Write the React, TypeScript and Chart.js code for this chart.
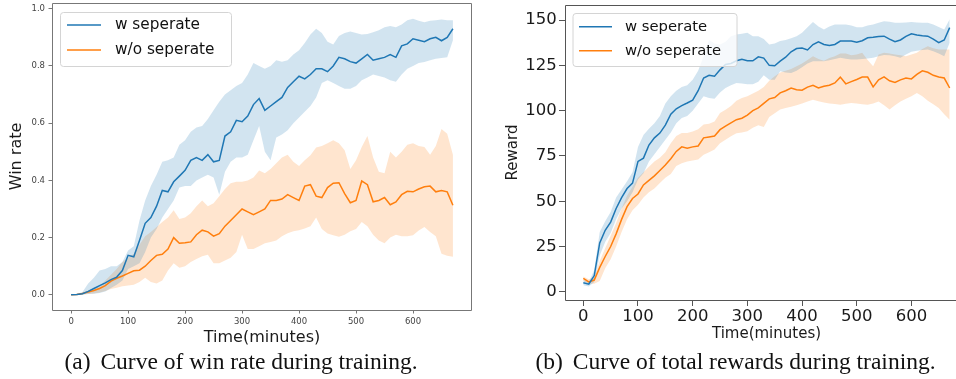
import React, { useEffect, useRef } from 'react';
import { Chart, registerables } from 'chart.js';

Chart.register(...registerables);

// ---------- data ----------
const TIME = [
  0, 10, 20, 30, 40, 50, 60, 70, 80, 90,
  100, 110, 120, 130, 140, 150, 160, 170, 180, 190,
  200, 210, 220, 230, 240, 250, 260, 270, 280, 290,
  300, 310, 320, 330, 340, 350, 360, 370, 380, 390,
  400, 410, 420, 430, 440, 450, 460, 470, 480, 490,
  500, 510, 520, 530, 540, 550, 560, 570, 580, 590,
  600, 610, 620, 630, 640, 650, 660, 670,
];

const SERIES_LABELS = ['w seperate', 'w/o seperate'];

// (a) win rate
const WIN_W_MEAN = [
  0, 0.001, 0.004, 0.012, 0.022, 0.032, 0.042, 0.053, 0.062, 0.085,
  0.138, 0.133, 0.19, 0.25, 0.27, 0.31, 0.365, 0.36, 0.395, 0.415,
  0.435, 0.47, 0.48, 0.47, 0.49, 0.465, 0.47, 0.555, 0.57, 0.61,
  0.605, 0.625, 0.665, 0.686, 0.645, 0.66, 0.675, 0.69, 0.725, 0.745,
  0.764, 0.755, 0.77, 0.79, 0.79, 0.78, 0.8, 0.83, 0.825, 0.815,
  0.81, 0.825, 0.84, 0.82, 0.825, 0.83, 0.84, 0.83, 0.87, 0.877,
  0.895, 0.89, 0.885, 0.895, 0.9, 0.888, 0.9, 0.93,
];
const WIN_W_UPPER = [
  0, 0.002, 0.01, 0.04, 0.06, 0.085, 0.09, 0.1, 0.1, 0.115,
  0.155, 0.17, 0.26, 0.33, 0.38, 0.42, 0.465, 0.47, 0.48, 0.525,
  0.54, 0.57, 0.585, 0.59, 0.615, 0.645, 0.675, 0.7, 0.715, 0.73,
  0.74, 0.77, 0.81, 0.8, 0.79, 0.8, 0.82, 0.815, 0.82, 0.84,
  0.855, 0.88, 0.91, 0.93, 0.915, 0.885, 0.875, 0.905, 0.915, 0.92,
  0.915, 0.91, 0.912, 0.918, 0.925, 0.935, 0.94, 0.935, 0.945, 0.96,
  0.965, 0.958, 0.953, 0.958, 0.96, 0.962, 0.96, 0.96,
];
const WIN_W_LOWER = [
  0, 0, 0.001, 0.003, 0.004, 0.006, 0.012, 0.024, 0.035, 0.05,
  0.09, 0.1, 0.11, 0.15, 0.2, 0.23, 0.27, 0.3, 0.33, 0.375,
  0.38, 0.38, 0.4, 0.41, 0.42, 0.41, 0.35, 0.43, 0.465, 0.48,
  0.48, 0.49, 0.54, 0.59, 0.5, 0.47, 0.55, 0.56, 0.575, 0.6,
  0.62, 0.64, 0.66, 0.69, 0.74, 0.75, 0.74, 0.73, 0.72, 0.72,
  0.73, 0.75, 0.76, 0.77, 0.765, 0.76, 0.75, 0.745, 0.77, 0.79,
  0.8, 0.81, 0.814, 0.82, 0.825, 0.828, 0.83, 0.89,
];
const WIN_WO_MEAN = [
  0, 0.001, 0.005, 0.01, 0.015, 0.022, 0.032, 0.048, 0.058, 0.066,
  0.075, 0.084, 0.086, 0.1, 0.12, 0.138, 0.142, 0.16, 0.2, 0.18,
  0.182, 0.185, 0.21, 0.226, 0.22, 0.205, 0.214, 0.24, 0.26, 0.28,
  0.3, 0.29, 0.28, 0.29, 0.3, 0.33, 0.33, 0.335, 0.35, 0.34,
  0.33, 0.38, 0.385, 0.345, 0.34, 0.375, 0.39, 0.392, 0.354, 0.322,
  0.33, 0.398, 0.385, 0.325, 0.33, 0.34, 0.315, 0.325, 0.35, 0.362,
  0.36, 0.37, 0.378, 0.38, 0.36, 0.365, 0.36, 0.313,
];
const WIN_WO_UPPER = [
  0, 0.002, 0.008, 0.015, 0.022, 0.03, 0.05, 0.07, 0.09, 0.115,
  0.13, 0.144, 0.175, 0.205, 0.22, 0.237, 0.255, 0.27, 0.296, 0.265,
  0.27, 0.285, 0.31, 0.33, 0.31, 0.32, 0.345, 0.37, 0.39, 0.395,
  0.395, 0.4, 0.41, 0.435, 0.425, 0.44, 0.46, 0.48, 0.49, 0.465,
  0.45, 0.47, 0.488, 0.515, 0.52, 0.53, 0.54, 0.53, 0.505, 0.44,
  0.47, 0.517, 0.555, 0.48, 0.43, 0.425, 0.5, 0.48, 0.5, 0.525,
  0.53, 0.52, 0.517, 0.49, 0.52, 0.58, 0.563, 0.49,
];
const WIN_WO_LOWER = [
  0, 0, 0.001, 0.003, 0.005, 0.008, 0.013, 0.02, 0.025, 0.03,
  0.033, 0.035, 0.045, 0.06, 0.045, 0.04, 0.05, 0.085, 0.11, 0.095,
  0.1, 0.115, 0.125, 0.135, 0.14, 0.11, 0.11, 0.12, 0.13, 0.15,
  0.21, 0.16, 0.16, 0.17, 0.18, 0.185, 0.19, 0.205, 0.215, 0.222,
  0.226, 0.232, 0.24, 0.27, 0.23, 0.214, 0.208, 0.203, 0.21, 0.222,
  0.23, 0.255, 0.24, 0.21, 0.19, 0.18, 0.2, 0.21, 0.205, 0.205,
  0.208, 0.225, 0.237, 0.22, 0.205, 0.144, 0.137, 0.133,
];

// (b) total rewards
const REW_W_MEAN = [
  5.0, 4.2, 9, 27, 34, 38.5, 46, 52, 57, 60,
  72, 73.8, 81, 85, 87.6, 92, 98, 101, 102.8, 104.2,
  105.8, 111, 118, 119.5, 119, 122.5, 125.5, 126, 127.5, 128.3,
  127.6, 127.5, 129.7, 129, 125, 124.8, 127.3, 129.5, 132.5, 134.3,
  134.5, 133.5, 136.5, 138, 136.5, 136, 136.5, 138.4, 138.4, 138.4,
  137.8, 138.6, 140.2, 140.5, 140.9, 141.1, 139.5, 138, 139, 141,
  142.4, 141.8, 141.3, 141.1, 139.5, 137.5, 139, 145.8,
];
const REW_W_UPPER = [
  6.5, 5.5, 12, 33, 39, 44, 52, 56.5, 61, 66,
  80, 86.5, 90, 93, 97, 104, 108, 111, 113, 114,
  117, 122, 130, 139, 137, 136.5, 138, 141, 142, 142.5,
  143, 141, 141, 139.5, 136.5, 137, 138.4, 139, 140, 141,
  143, 146, 148.9, 146.5, 144.8, 146.5, 147.6, 147.6, 147.6, 147,
  146, 146, 147, 147.6, 148.5, 149.4, 149, 148.5, 148.5, 148.7,
  148.9, 148.7, 148.5, 148.5, 147.5, 146.2, 144.8, 150.5,
];
const REW_W_LOWER = [
  3.7, 3, 5.5, 20, 27.5, 32.5, 40, 46, 50, 55,
  62, 65.5, 72, 76, 80, 84, 88, 93, 96, 97,
  100, 104, 108, 107, 106.5, 110, 112.5, 114, 115.3, 115,
  114.5, 114.5, 116, 119.5, 117, 117, 121.8, 121, 120.8, 122,
  124, 126, 127.3, 127.3, 127.3, 127.8, 128.5, 129.2, 128.7, 128.2,
  128.2, 128.5, 128.8, 129.2, 130, 130.7, 130.5, 130, 129.2, 131,
  132.5, 133, 133.5, 133.8, 132.8, 131.5, 130, 137.5,
];
const REW_WO_MEAN = [
  7.4, 5.5, 6.5, 13.5, 19.5, 25, 32, 40, 47, 51.5,
  54, 59, 61.5, 64, 67, 70, 73.5, 77.5, 80, 79.3,
  80, 80.5, 85, 85.5, 86, 89.5, 91.5, 93.3, 95, 95.8,
  97.5, 100, 101.5, 104, 106.5, 107.2, 109.8, 111, 112.5, 111.5,
  111.3, 113, 114, 112.5, 113.5, 114, 115.3, 118.5, 114.8, 116,
  117.2, 118.5, 118.5, 113.1, 117, 118.6, 116.5, 115.6, 117, 118,
  117.5, 120, 122, 121.2, 119.5, 118.6, 118, 112.5,
];
const REW_WO_UPPER = [
  8.5, 7, 8, 17, 24, 31, 38, 46, 53, 58,
  63, 66, 69, 72, 74, 77, 82, 86, 87.6, 87.6,
  88.5, 89.7, 92.3, 92.8, 94, 98.7, 100.5, 102.5, 105.5, 107,
  108, 109.5, 111, 113, 116.5, 119, 121, 122, 123, 124.5,
  126, 128, 130, 128.5, 127.5, 129, 130, 131.5, 131.5, 130.5,
  131, 132, 128, 124.5, 131, 132, 131.5, 131, 130.5, 130,
  131, 132, 134, 135.6, 134.5, 133.8, 133.8, 133.8,
];
const REW_WO_LOWER = [
  6, 4.5, 4.5, 6, 13, 18, 25, 33, 40, 45,
  48, 52, 55, 57, 60, 63, 65, 69.5, 71, 72,
  72.5, 73, 75.6, 77, 78.5, 82, 84, 85.8, 87.5, 88,
  88.6, 90.5, 92, 91, 96.5, 98.5, 100.6, 101.5, 102.2, 103,
  104, 105, 106, 105.2, 104.5, 104, 103.7, 103.3, 103.8, 104.2,
  104, 103.5, 103.3, 104, 105, 103, 100.6, 103, 105, 106.5,
  108, 109.8, 108, 105.5, 103.5, 101.5, 98, 95,
];

const X_TICKS = [0, 100, 200, 300, 400, 500, 600];
const WIN_Y_TICKS = [0, 0.2, 0.4, 0.6, 0.8, 1.0];
const REW_Y_TICKS = [0, 25, 50, 75, 100, 125, 150];

// ---------- styling ----------
const BLUE = '#1f77b4';
const ORANGE = '#ff7f0e';
const BLUE_BAND = 'rgba(31,119,180,0.2)';
const ORANGE_BAND = 'rgba(255,127,14,0.2)';
const SANS = '"DejaVu Sans", sans-serif';

const pts = (ys: number[]) => ys.map((y, i) => ({ x: TIME[i], y }));

function buildDatasets(series: { mean: number[]; upper: number[]; lower: number[]; color: string; band: string; label: string }[]) {
  const lines: any[] = [];
  const bands: any[] = [];
  series.forEach((s) => {
    lines.push({
      label: s.label, data: pts(s.mean), borderColor: s.color, backgroundColor: s.color,
      borderWidth: 1.5, pointRadius: 0, fill: false, tension: 0, order: 1, isMean: true,
    });
  });
  series.forEach((s) => {
    bands.push({
      label: s.label + ' upper', data: pts(s.upper), borderColor: 'rgba(0,0,0,0)', borderWidth: 0.01,
      backgroundColor: s.band, pointRadius: 0, fill: '+1', tension: 0, order: 2,
    });
    bands.push({
      label: s.label + ' lower', data: pts(s.lower), borderColor: 'rgba(0,0,0,0)', borderWidth: 0.01,
      backgroundColor: s.band, pointRadius: 0, fill: false, tension: 0, order: 2,
    });
  });
  return [...lines, ...bands];
}

const framePlugin = {
  id: 'frame',
  afterDatasetsDraw(chart: any, _args: any, opts: any) {
    const { ctx, chartArea: a } = chart;
    const l = Math.floor(a.left) + 0.5;
    const r = Math.floor(a.right) - 0.5;
    const t = Math.floor(a.top) + 0.5;
    const b = Math.floor(a.bottom) + 0.5;
    ctx.save();
    ctx.strokeStyle = opts.color;
    ctx.lineWidth = opts.width;
    ctx.beginPath();
    ctx.moveTo(l, t); ctx.lineTo(r, t);
    ctx.lineTo(r, b); ctx.lineTo(l, b); ctx.closePath();
    ctx.stroke();
    ctx.restore();
  },
};

const legendPlugin = {
  id: 'insideLegend',
  afterDraw(chart: any, _args: any, o: any) {
    const { ctx } = chart;
    const items = chart.data.datasets.filter((d: any) => d.isMean);
    ctx.save();
    const { x, y, w, h } = o;
    const rad = 3;
    ctx.beginPath();
    ctx.moveTo(x + rad, y);
    ctx.lineTo(x + w - rad, y);
    ctx.arcTo(x + w, y, x + w, y + rad, rad);
    ctx.lineTo(x + w, y + h - rad);
    ctx.arcTo(x + w, y + h, x + w - rad, y + h, rad);
    ctx.lineTo(x + rad, y + h);
    ctx.arcTo(x, y + h, x, y + h - rad, rad);
    ctx.lineTo(x, y + rad);
    ctx.arcTo(x, y, x + rad, y, rad);
    ctx.closePath();
    ctx.fillStyle = 'rgba(255,255,255,0.8)';
    ctx.fill();
    ctx.strokeStyle = '#d4d4d4';
    ctx.lineWidth = 1;
    ctx.stroke();
    items.forEach((d: any, i: number) => {
      const yy = o.rows[i];
      ctx.strokeStyle = d.borderColor;
      ctx.lineWidth = 1.5;
      ctx.beginPath();
      ctx.moveTo(o.lineX0, yy);
      ctx.lineTo(o.lineX1, yy);
      ctx.stroke();
      ctx.fillStyle = '#111';
      ctx.font = `${o.fontSize}px ${SANS}`;
      ctx.textBaseline = 'middle';
      ctx.textAlign = 'left';
      ctx.fillText(d.label, o.textX, yy);
    });
    ctx.restore();
  },
};

function makeConfig(p: any): any {
  return {
    type: 'line',
    data: { datasets: p.datasets },
    plugins: [framePlugin, legendPlugin],
    options: {
      animation: false,
      responsive: false,
      events: [],
      layout: { padding: p.padding },
      plugins: {
        legend: { display: false },
        tooltip: { enabled: false },
        frame: { color: p.frameColor, width: 1 },
        insideLegend: p.legend,
      },
      scales: {
        x: {
          type: 'linear', bounds: 'data', min: -33.5, max: 703.5,
          afterBuildTicks: (axis: any) => { axis.ticks = X_TICKS.map((v) => ({ value: v })); },
          afterFit: (axis: any) => { axis.height = p.xHeight; axis.paddingLeft = 0; axis.paddingRight = 0; },
          ticks: {
            autoSkip: false, maxRotation: 0, padding: p.xTickPad, color: p.tickColor,
            font: { family: SANS, size: p.tickSize },
            callback: (v: any) => String(v),
          },
          grid: { display: true, drawOnChartArea: false, drawTicks: true, tickLength: p.tickLen, tickColor: p.frameColor, tickWidth: 1 },
          border: { display: false },
          title: {
            display: true, text: 'Time(minutes)', color: '#1a1a1a',
            font: { family: SANS, size: p.xTitleSize }, padding: { top: 0, bottom: p.xTitlePad },
          },
        },
        y: {
          type: 'linear', bounds: 'data', min: p.yMin, max: p.yMax,
          afterBuildTicks: (axis: any) => { axis.ticks = p.yTicks.map((v: number) => ({ value: v })); },
          afterFit: (axis: any) => { axis.width = p.yWidth; axis.paddingTop = 0; axis.paddingBottom = 0; },
          ticks: {
            autoSkip: false, padding: p.yTickPad, color: p.tickColor,
            font: { family: SANS, size: p.tickSize },
            callback: p.yFmt,
          },
          grid: { display: true, drawOnChartArea: false, drawTicks: true, tickLength: p.tickLen, tickColor: p.frameColor, tickWidth: 1 },
          border: { display: false },
          title: {
            display: true, text: p.yTitle, color: '#1a1a1a',
            font: { family: SANS, size: p.yTitleSize }, padding: { top: p.yTitlePad, bottom: 0 },
          },
        },
      },
    },
  };
}

export default function App() {
  const leftRef = useRef<HTMLCanvasElement>(null);
  const rightRef = useRef<HTMLCanvasElement>(null);

  useEffect(() => {
    const winDatasets = buildDatasets([
      { mean: WIN_W_MEAN, upper: WIN_W_UPPER, lower: WIN_W_LOWER, color: BLUE, band: BLUE_BAND, label: SERIES_LABELS[0] },
      { mean: WIN_WO_MEAN, upper: WIN_WO_UPPER, lower: WIN_WO_LOWER, color: ORANGE, band: ORANGE_BAND, label: SERIES_LABELS[1] },
    ]);
    const rewDatasets = buildDatasets([
      { mean: REW_W_MEAN, upper: REW_W_UPPER, lower: REW_W_LOWER, color: BLUE, band: BLUE_BAND, label: SERIES_LABELS[0] },
      { mean: REW_WO_MEAN, upper: REW_WO_UPPER, lower: REW_WO_LOWER, color: ORANGE, band: ORANGE_BAND, label: SERIES_LABELS[1] },
    ]);

    const left = new Chart(leftRef.current as HTMLCanvasElement, makeConfig({
      datasets: winDatasets,
      padding: { left: 0, right: 8, top: 3, bottom: 0 },
      frameColor: '#777',
      tickColor: '#444',
      tickSize: 8.5,
      tickLen: 3.5,
      xTickPad: 3,
      yTickPad: 3.5,
      xHeight: 69,
      yWidth: 52,
      yMin: -0.053, yMax: 1.02,
      yTicks: WIN_Y_TICKS,
      yFmt: (v: any) => Number(v).toFixed(1),
      yTitle: 'Win rate',
      xTitleSize: 16, yTitleSize: 16,
      xTitlePad: 32, yTitlePad: 7.4,
      legend: { x: 60.5, y: 12.5, w: 171, h: 54, lineX0: 67, lineX1: 101, textX: 115, rows: [25, 50], fontSize: 15.3 },
    }));

    const right = new Chart(rightRef.current as HTMLCanvasElement, makeConfig({
      datasets: rewDatasets,
      padding: { left: 0, right: 0, top: 5, bottom: 0 },
      frameColor: '#555',
      tickColor: '#1a1a1a',
      tickSize: 16.5,
      tickLen: 6,
      xTickPad: 1,
      yTickPad: 2.3,
      xHeight: 79,
      yWidth: 85,
      yMin: -4.5, yMax: 158.3,
      yTicks: REW_Y_TICKS,
      yFmt: (v: any) => String(v),
      yTitle: 'Reward',
      xTitleSize: 15, yTitleSize: 15,
      xTitlePad: 36, yTitlePad: 23.7,
      legend: { x: 93, y: 13.5, w: 164, h: 53, lineX0: 99, lineX1: 132, textX: 145, rows: [26.7, 50.7], fontSize: 14.8 },
    }));

    return () => {
      left.destroy();
      right.destroy();
    };
  }, []);

  const captionStyle: React.CSSProperties = {
    position: 'absolute', top: 350, textAlign: 'center', whiteSpace: 'nowrap',
    fontFamily: '"Liberation Serif", "Times New Roman", serif', fontSize: 23.5, lineHeight: '23.5px', color: '#111',
  };

  return (
    <div style={{ position: 'fixed', left: 0, top: 0, width: 956, height: 379, overflow: 'hidden', background: '#fff' }}>
      <canvas ref={leftRef} width={480} height={379} style={{ position: 'absolute', left: 0, top: 0, width: 480, height: 379 }} />
      <canvas ref={rightRef} width={488} height={379} style={{ position: 'absolute', left: 480, top: 0, width: 488, height: 379 }} />
      <div style={{ ...captionStyle, left: 0, width: 482 }}>
        <span style={{ marginRight: 4 }}>(a)</span> Curve of win rate during training.
      </div>
      <div style={{ ...captionStyle, left: 480, width: 511 }}>
        <span style={{ marginRight: 4 }}>(b)</span> Curve of total rewards during training.
      </div>
    </div>
  );
}
